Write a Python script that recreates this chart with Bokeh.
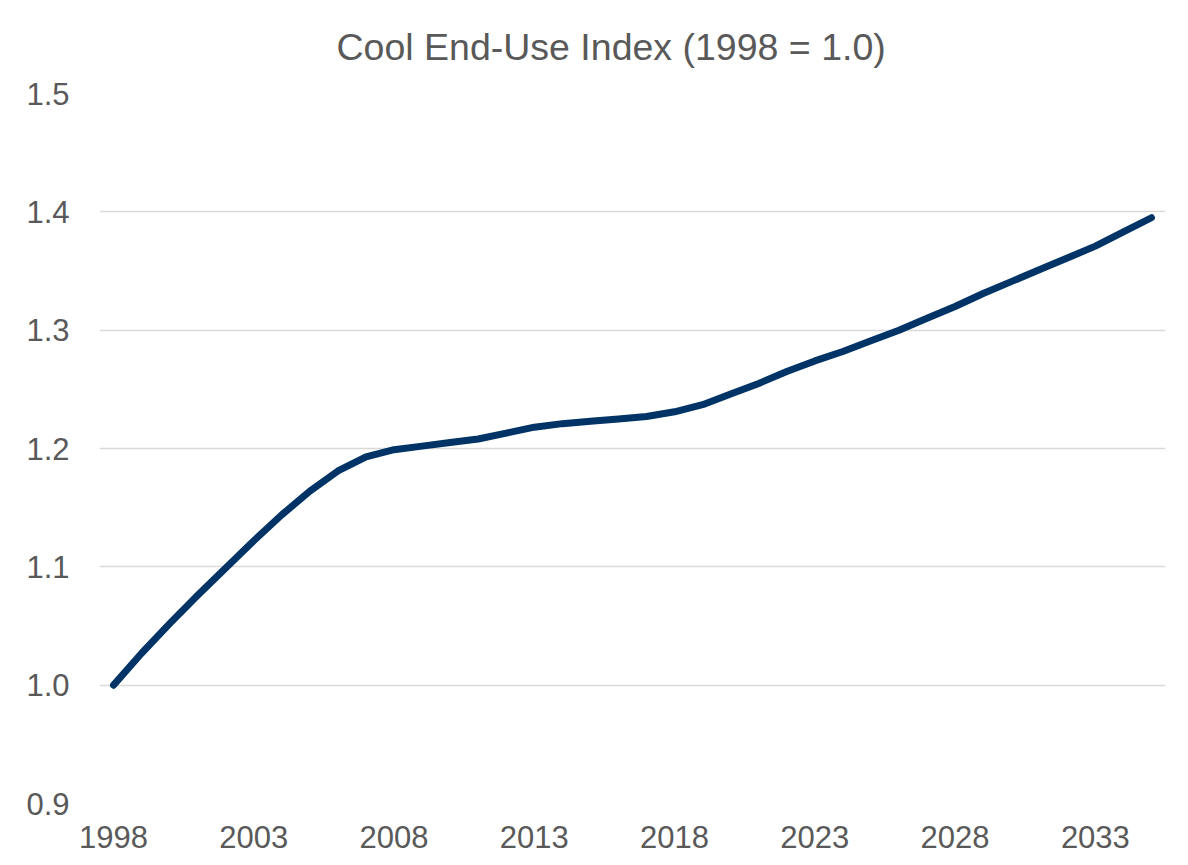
from bokeh.plotting import figure
from bokeh.models import FixedTicker, NumeralTickFormatter, Range1d
from bokeh.embed import file_html
from bokeh.resources import INLINE

# ---- data ----
years = list(range(1998, 2036))
index_values = [
    1.000, 1.027, 1.052, 1.076, 1.099, 1.122, 1.144, 1.164, 1.181, 1.193,
    1.199, 1.202, 1.205, 1.208, 1.213, 1.218, 1.221, 1.223, 1.225, 1.227,
    1.231, 1.237, 1.246, 1.255, 1.265, 1.274, 1.282, 1.291, 1.300, 1.310,
    1.320, 1.331, 1.341, 1.351, 1.361, 1.371, 1.383, 1.395,
]
x_tick_years = [1998, 2003, 2008, 2013, 2018, 2023, 2028, 2033]
y_ticks = [0.9, 1.0, 1.1, 1.2, 1.3, 1.4, 1.5]
title_text = "Cool End-Use Index (1998 = 1.0)"

FONT = "Liberation Sans"
TEXT_COLOR = "#595959"
GRID_COLOR = "#d9d9d9"
LINE_COLOR = "#003366"

p = figure(
    width=1188, height=865,
    x_range=Range1d(1997.5, 2035.5),
    y_range=Range1d(0.9, 1.5),
    output_backend="svg", toolbar_location=None,
    title=title_text,
    min_border_left=99, min_border_right=23,
    min_border_top=93, min_border_bottom=62,
)

p.line(years, index_values, line_color=LINE_COLOR, line_width=7,
       line_cap="round", line_join="round")

# title
p.title.align = "left"
p.title.offset = 237
p.title.vertical_align = "top"
p.title.text_font = FONT
p.title.text_font_size = "37.5px"
p.title.text_font_style = "normal"
p.title.text_color = TEXT_COLOR
p.title.standoff = 48

# axes
p.xaxis.ticker = FixedTicker(ticks=x_tick_years)
p.xaxis.major_label_overrides = {y: str(y) for y in x_tick_years}
p.yaxis.ticker = FixedTicker(ticks=y_ticks)
p.yaxis.formatter = NumeralTickFormatter(format="0.0")

for ax in (p.xaxis, p.yaxis):
    ax.axis_line_color = None
    ax.major_tick_line_color = None
    ax.minor_tick_line_color = None
    ax.major_label_text_font = FONT
    ax.major_label_text_font_size = "31px"
    ax.major_label_text_color = TEXT_COLOR

p.xaxis.major_label_standoff = 16
p.yaxis.major_label_standoff = 24

# grid
p.xgrid.grid_line_color = None
p.ygrid.grid_line_color = GRID_COLOR
p.ygrid.grid_line_width = 1.5

p.outline_line_color = None
p.background_fill_color = "white"
p.border_fill_color = "white"

open("out.html", "w").write(file_html(p, INLINE))
